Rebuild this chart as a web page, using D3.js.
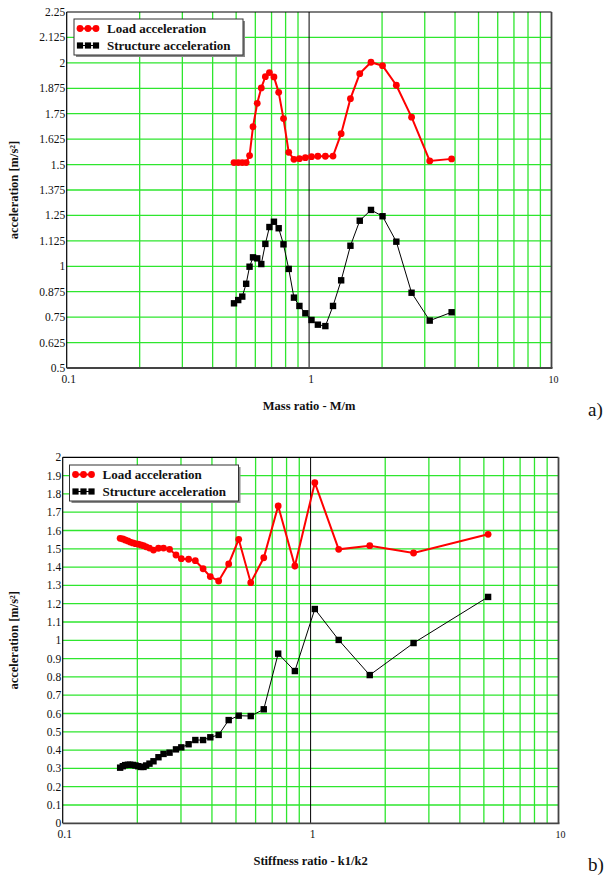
<!DOCTYPE html>
<html>
<head>
<meta charset="utf-8">
<script src="https://cdn.jsdelivr.net/npm/d3@7"></script>
<style>
  body { margin: 0; background: #fff; }
  svg text { font-family: "Liberation Serif", "Times New Roman", Times, "DejaVu Serif", serif; fill: #111; }
  .tick-label { font-size: 11.5px; }
  .axis-title { font-size: 12.5px; font-weight: bold; }
  .legend-text { font-size: 13px; font-weight: bold; }
  .panel-label { font-size: 19px; }
</style>
</head>
<body>
<svg id="chart" width="611" height="875"></svg>
<script>
// a) mass ratio
const massRatio = [0.49, 0.51, 0.53, 0.55, 0.568, 0.587, 0.611, 0.635, 0.66, 0.686, 0.716, 0.749, 0.784, 0.824, 0.866,
  0.912, 0.965, 1.023, 1.087, 1.167, 1.255, 1.356, 1.481, 1.618, 1.8, 2.009, 2.29, 2.647, 3.145, 3.873];
const massLoad = [1.51, 1.51, 1.51, 1.51, 1.544, 1.686, 1.801, 1.877, 1.932, 1.952, 1.931, 1.855, 1.726, 1.56, 1.526,
  1.529, 1.534, 1.539, 1.541, 1.541, 1.542, 1.652, 1.824, 1.947, 2.003, 1.986, 1.89, 1.733, 1.518, 1.528];
const massStructure = [0.818, 0.834, 0.851, 0.914, 0.998, 1.044, 1.039, 1.011, 1.11, 1.193, 1.219, 1.187, 1.108, 0.987, 0.846,
  0.805, 0.769, 0.736, 0.713, 0.706, 0.805, 0.931, 1.101, 1.224, 1.277, 1.246, 1.121, 0.87, 0.733, 0.774];
const massYTicks = [0.5, 0.625, 0.75, 0.875, 1, 1.125, 1.25, 1.375, 1.5, 1.625, 1.75, 1.875, 2, 2.125, 2.25];

// b) stiffness ratio
const stiffRatio = [0.1705, 0.1748, 0.1786, 0.1832, 0.1871, 0.1919, 0.1966, 0.2016, 0.2067, 0.2118, 0.2171, 0.2239, 0.2324,
  0.2434, 0.2551, 0.2698, 0.2864, 0.3009, 0.322, 0.3428, 0.3684, 0.394, 0.4257, 0.4673, 0.5129, 0.5735, 0.6472,
  0.74, 0.864, 1.04, 1.298, 1.732, 2.602, 5.2];
const stiffLoad = [1.557, 1.554, 1.548, 1.543, 1.537, 1.532, 1.528, 1.525, 1.521, 1.517, 1.511, 1.504, 1.493,
  1.503, 1.504, 1.497, 1.466, 1.446, 1.443, 1.435, 1.391, 1.348, 1.324, 1.417, 1.552, 1.315, 1.451,
  1.734, 1.406, 1.861, 1.497, 1.517, 1.477, 1.579];
const stiffStructure = [0.304, 0.312, 0.318, 0.32, 0.32, 0.319, 0.316, 0.312, 0.308, 0.308, 0.316, 0.326, 0.339,
  0.361, 0.379, 0.386, 0.404, 0.415, 0.432, 0.455, 0.455, 0.47, 0.483, 0.564, 0.588, 0.586, 0.623,
  0.927, 0.832, 1.171, 1.002, 0.81, 0.985, 1.237];
const stiffYTicks = [0, 0.1, 0.2, 0.3, 0.4, 0.5, 0.6, 0.7, 0.8, 0.9, 1, 1.1, 1.2, 1.3, 1.4, 1.5, 1.6, 1.7, 1.8, 1.9, 2];

const xTickLabels = [0.1, 1, 10];
const seriesNames = ['Load acceleration', 'Structure acceleration'];

const svg = d3.select('#chart');
const gridColor = '#2ee62e';

function drawPanel(cfg) {
  const g = svg.append('g');
  const x = d3.scaleLog().domain([0.1, 10]).range([cfg.left, cfg.right]);
  const y = d3.scaleLinear().domain(d3.extent(cfg.yTicks)).range([cfg.bottom, cfg.top]);

  // minor + major vertical grid (2..9 in each decade)
  const vLines = [];
  [0.1, 1].forEach((dec) => d3.range(2, 10).forEach((k) => vLines.push(dec * k)));
  g.append('g').selectAll('line').data(vLines).enter().append('line')
    .attr('x1', (d) => x(d)).attr('x2', (d) => x(d))
    .attr('y1', cfg.top).attr('y2', cfg.bottom)
    .attr('stroke', gridColor).attr('stroke-width', 1.3);

  g.append('g').selectAll('line').data(cfg.yTicks.slice(1, -1)).enter().append('line')
    .attr('x1', cfg.left).attr('x2', cfg.right)
    .attr('y1', (d) => y(d)).attr('y2', (d) => y(d))
    .attr('stroke', gridColor).attr('stroke-width', 1.3);

  // line at ratio = 1
  g.append('line')
    .attr('x1', x(1)).attr('x2', x(1)).attr('y1', cfg.top).attr('y2', cfg.bottom)
    .attr('stroke', '#000').attr('stroke-width', 1);

  // frame
  g.append('line').attr('x1', cfg.left).attr('x2', cfg.right).attr('y1', cfg.top).attr('y2', cfg.top)
    .attr('stroke', '#000').attr('stroke-width', 1.2);
  g.append('line').attr('x1', cfg.left).attr('x2', cfg.left).attr('y1', cfg.top).attr('y2', cfg.bottom)
    .attr('stroke', '#000').attr('stroke-width', 1.2);
  g.append('line').attr('x1', cfg.left).attr('x2', cfg.right + 1).attr('y1', cfg.bottom).attr('y2', cfg.bottom)
    .attr('stroke', '#444').attr('stroke-width', 1.8);
  g.append('line').attr('x1', cfg.right).attr('x2', cfg.right).attr('y1', cfg.top).attr('y2', cfg.bottom)
    .attr('stroke', '#444').attr('stroke-width', 1.8);

  // tick labels
  g.append('g').selectAll('text').data(cfg.yTicks).enter().append('text')
    .attr('class', 'tick-label')
    .attr('x', cfg.left - 1.5)
    .attr('y', (d) => y(d) + 4)
    .attr('text-anchor', 'end')
    .text((d) => String(d));

  g.append('g').selectAll('text').data(xTickLabels).enter().append('text')
    .attr('class', 'tick-label')
    .attr('x', (d) => x(d) + 2)
    .attr('y', cfg.bottom + 15)
    .attr('text-anchor', 'middle')
    .style('font-size', (d) => (d === 10 ? '10px' : null))
    .text((d) => String(d));

  // axis titles
  g.append('text').attr('class', 'axis-title')
    .attr('x', x(1)).attr('y', cfg.bottom + 42)
    .attr('text-anchor', 'middle')
    .text(cfg.xTitle);
  g.append('text').attr('class', 'axis-title')
    .attr('transform', `translate(18, ${(cfg.top + cfg.bottom) / 2}) rotate(-90)`)
    .attr('text-anchor', 'middle')
    .text('acceleration [m/s²]');

  g.append('text').attr('class', 'panel-label')
    .attr('x', 588).attr('y', cfg.bottom + 48)
    .text(cfg.panel);

  // series
  const load = cfg.ratio.map((r, i) => [r, cfg.load[i]]);
  const structure = cfg.ratio.map((r, i) => [r, cfg.structure[i]]);
  const line = d3.line().x((d) => x(d[0])).y((d) => y(d[1]));

  g.append('path').datum(structure).attr('d', line)
    .attr('fill', 'none').attr('stroke', '#000').attr('stroke-width', 1);
  g.append('g').selectAll('rect').data(structure).enter().append('rect')
    .attr('x', (d) => x(d[0]) - 3.2).attr('y', (d) => y(d[1]) - 3.2)
    .attr('width', 6.4).attr('height', 6.4).attr('fill', '#000');

  g.append('path').datum(load).attr('d', line)
    .attr('fill', 'none').attr('stroke', '#f00').attr('stroke-width', 2);
  g.append('g').selectAll('circle').data(load).enter().append('circle')
    .attr('cx', (d) => x(d[0])).attr('cy', (d) => y(d[1]))
    .attr('r', 3.4).attr('fill', '#f00');

  // legend
  const lg = g.append('g').attr('transform', `translate(${cfg.legend[0]}, ${cfg.legend[1]})`);
  lg.append('rect').attr('x', 2).attr('y', 2).attr('width', 169).attr('height', 36).attr('fill', '#888');
  lg.append('rect').attr('x', 0).attr('y', 0).attr('width', 169).attr('height', 36)
    .attr('fill', '#fff').attr('stroke', '#333').attr('stroke-width', 1);
  seriesNames.forEach((name, i) => {
    const cy = 9.5 + i * 17;
    lg.append('line').attr('x1', 6).attr('x2', 22).attr('y1', cy).attr('y2', cy)
      .attr('stroke', i === 0 ? '#f00' : '#000').attr('stroke-width', i === 0 ? 2 : 1);
    [6, 14, 22].forEach((mx) => {
      if (i === 0) {
        lg.append('circle').attr('cx', mx).attr('cy', cy).attr('r', 3.4).attr('fill', '#f00');
      } else {
        lg.append('rect').attr('x', mx - 3.1).attr('y', cy - 3.1).attr('width', 6.2).attr('height', 6.2).attr('fill', '#000');
      }
    });
    lg.append('text').attr('class', 'legend-text')
      .attr('x', 33).attr('y', cy + 4.5)
      .text(name);
  });
}

drawPanel({
  left: 66.7, right: 551.5, top: 12, bottom: 368,
  yTicks: massYTicks, ratio: massRatio, load: massLoad, structure: massStructure,
  xTitle: 'Mass ratio - M/m', panel: 'a)', legend: [74, 19],
});

drawPanel({
  left: 62.7, right: 558.5, top: 457.3, bottom: 823.3,
  yTicks: stiffYTicks, ratio: stiffRatio, load: stiffLoad, structure: stiffStructure,
  xTitle: 'Stiffness ratio - k1/k2', panel: 'b)', legend: [69.5, 465],
});
</script>
</body>
</html>
